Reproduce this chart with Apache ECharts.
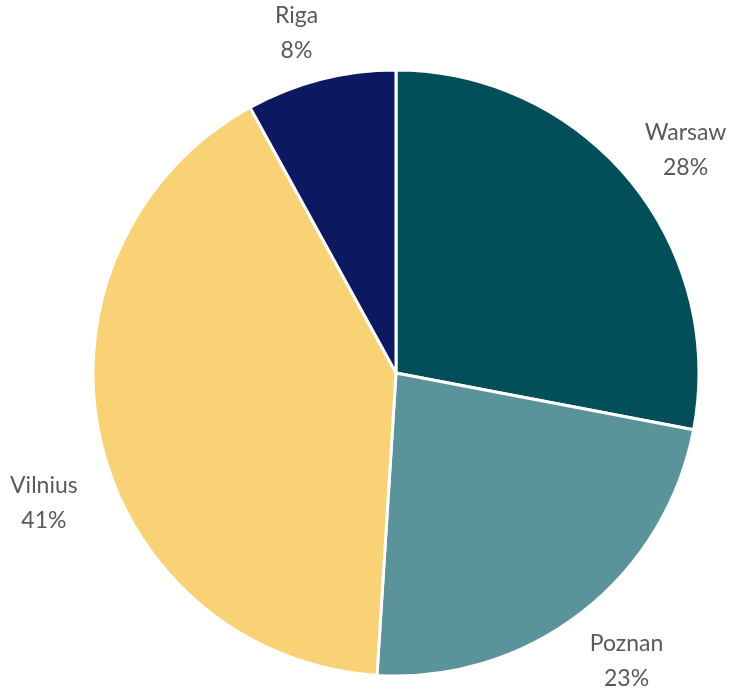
<!DOCTYPE html>
<html>
<head>
<meta charset="utf-8">
<script src="https://cdn.jsdelivr.net/npm/echarts@6/dist/echarts.min.js"></script>
<style>
  html, body { margin: 0; padding: 0; background: #ffffff; }
  #chart { width: 733px; height: 689px; }
</style>
</head>
<body>
<div id="chart"></div>
<script>
// Share of sites by city (percent)
const cities = ['Warsaw', 'Poznan', 'Vilnius', 'Riga'];
const shares = [28, 23, 41, 8];
const sliceColors = ['#024f5a', '#5a949a', '#f9d276', '#0c1860'];

// Nudges for each city label around its ring position
const labelOffsets = [[6, 12], [5, -3], [7, 50], [-8, 17]];

const chart = echarts.init(document.getElementById('chart'), null, { renderer: 'canvas' });

const pieData = cities.map((name, i) => ({
  name: name,
  value: shares[i],
  itemStyle: { color: sliceColors[i] }
}));

const labelData = cities.map((name, i) => ({
  name: name,
  value: shares[i],
  label: { offset: labelOffsets[i] }
}));

chart.setOption({
  backgroundColor: '#ffffff',
  animation: false,
  series: [
    {
      type: 'pie',
      center: [396, 373],
      radius: [0, 303],
      startAngle: 90,
      clockwise: true,
      silent: true,
      itemStyle: { borderColor: '#ffffff', borderWidth: 3 },
      label: { show: false },
      labelLine: { show: false },
      data: pieData
    },
    {
      // invisible ring that carries the city labels
      type: 'pie',
      center: [396, 373],
      radius: [345, 385],
      startAngle: 90,
      clockwise: true,
      silent: true,
      itemStyle: { color: 'rgba(0,0,0,0)' },
      label: {
        show: true,
        position: 'inside',
        rotate: 0,
        color: '#595959',
        fontFamily: 'Lato, "Open Sans", sans-serif',
        fontSize: 23,
        lineHeight: 35,
        align: 'center',
        formatter: (p) => p.name + '\n' + p.value + '%'
      },
      labelLine: { show: false },
      data: labelData
    }
  ]
});
</script>
</body>
</html>
